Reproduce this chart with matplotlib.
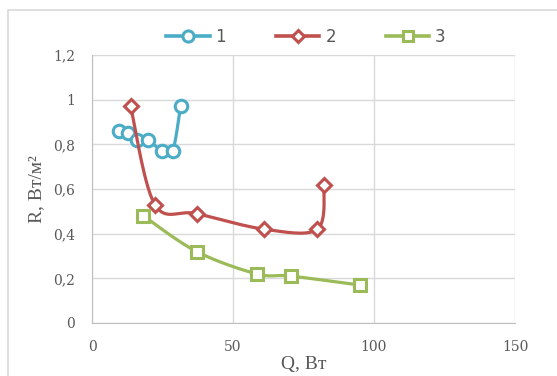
import matplotlib
matplotlib.use('Agg')
import matplotlib.pyplot as plt
import numpy as np
from matplotlib.patches import Rectangle

# values
q1 = [9.7, 12.9, 16.0, 19.7, 24.9, 28.6, 31.4]
r1 = [0.86, 0.85, 0.82, 0.82, 0.77, 0.77, 0.97]

q2 = [13.7, 22.3, 37.1, 61.1, 79.9, 82.3]
r2 = [0.97, 0.53, 0.49, 0.42, 0.42, 0.62]

q3 = [18.2, 37.1, 58.4, 70.5, 95.0]
r3 = [0.48, 0.32, 0.22, 0.21, 0.17]

labels = ['1', '2', '3']
colors = ['#4BACC6', '#C0504D', '#9BBB59']
markers = ['o', 'D', 's']

x_ticks = [0, 50, 100, 150]
y_ticks = [0, 0.2, 0.4, 0.6, 0.8, 1.0, 1.2]

xmax, ymax = 150, 1.2
width_px, height_px = 423, 268


def smooth(xs, ys, n=30):
    # catmull-rom style bezier like Excel smoothed lines, done in pixel space
    p = np.column_stack([np.array(xs) / xmax * width_px, np.array(ys) / ymax * height_px])
    pts = [p[0]] + list(p) + [p[-1]]
    out = []
    for i in range(1, len(pts) - 2):
        p0, p1, p2, p3 = pts[i - 1], pts[i], pts[i + 1], pts[i + 2]
        c1 = p1 + (p2 - p0) / 6
        c2 = p2 - (p3 - p1) / 6
        t = np.linspace(0, 1, n)[:, None]
        seg = (1 - t) ** 3 * p1 + 3 * (1 - t) ** 2 * t * c1 + 3 * (1 - t) * t ** 2 * c2 + t ** 3 * p2
        out.append(seg)
    out = np.vstack(out)
    return out[:, 0] / width_px * xmax, out[:, 1] / height_px * ymax


def fmt(v):
    s = '{:g}'.format(round(v, 1))
    return s.replace('.', ',')


fig = plt.figure(figsize=(5.57, 3.76), dpi=100)
fig.patches.append(Rectangle((8 / 557, -0.1), 1.2, (376 - 10) / 376 + 0.1,
                             transform=fig.transFigure, fill=False,
                             edgecolor='#D9D9D9', linewidth=1.2))
ax = fig.add_axes([92 / 557, 53 / 376, 423 / 557, 268 / 376])

for k, (xs, ys, lab, col, mk) in enumerate(zip([q1, q2, q3], [r1, r2, r3], labels, colors, markers)):
    sx, sy = smooth(xs, ys)
    z = 3 + 2 * k
    ax.plot(sx, sy, color=col, linewidth=2.3, solid_capstyle='round', zorder=z)
    ms = 9 if mk == 'o' else (7 if mk == 'D' else 8)
    ax.plot(xs, ys, linestyle='none', marker=mk, markersize=ms, markerfacecolor='white',
            markeredgecolor=col, markeredgewidth=2.2, zorder=z + 1)
    ax.plot([], [], color=col, linewidth=2.6, marker=mk, markersize=ms - 1,
            markerfacecolor='white', markeredgecolor=col, markeredgewidth=2.2, label=lab)

ax.set_xlim(0, xmax)
ax.set_ylim(0, ymax)
ax.set_xticks(x_ticks)
ax.set_yticks(y_ticks)
ax.set_xticklabels([fmt(v) for v in x_ticks])
ax.set_yticklabels([fmt(v) for v in y_ticks])
ax.grid(True, color='#D9D9D9', linewidth=1)
ax.set_axisbelow(True)
for side in ['top', 'right']:
    ax.spines[side].set_visible(False)
for side in ['left', 'bottom']:
    ax.spines[side].set_color('#BFBFBF')
ax.tick_params(length=0, labelcolor='#595959', pad=12)
for t in ax.get_xticklabels() + ax.get_yticklabels():
    t.set_family('DejaVu Serif')
    t.set_fontsize(10)

ax.set_xlabel('Q, Вт', family='Liberation Serif', fontsize=14, color='#595959', labelpad=2)
ax.set_ylabel('R, Вт/м²', family='Liberation Serif', fontsize=14, color='#595959', labelpad=6)

leg = fig.legend(loc='center', bbox_to_anchor=(306 / 557, 1 - 37 / 376), ncol=3, frameon=False,
                 handlelength=2.6, columnspacing=3.0, handletextpad=0.35,
                 prop={'family': 'DejaVu Sans', 'size': 12})
for t in leg.get_texts():
    t.set_color('#595959')

fig.savefig('out.png', dpi=100)
